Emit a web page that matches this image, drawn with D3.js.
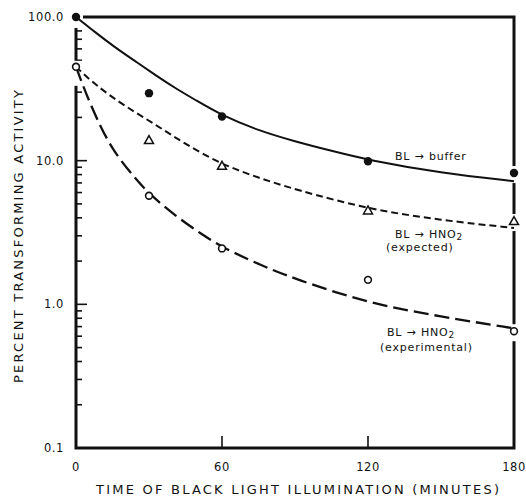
<!DOCTYPE html>
<html>
<head>
<meta charset="utf-8">
<script src="https://cdn.jsdelivr.net/npm/d3@7"></script>
<style>
  body { margin: 0; background: #fff; }
  text { font-family: "DejaVu Sans", "Liberation Sans", sans-serif; fill: #111; }
</style>
</head>
<body>
<div id="chart"></div>
<script>
// measured points (minutes, percent)
var bufferT = [0, 30, 60, 120, 180];
var bufferV = [100, 29.5, 20.3, 9.9, 8.2];
var expectedT = [30, 60, 120, 180];
var expectedV = [13.9, 9.2, 4.5, 3.8];
var experimentalT = [0, 30, 60, 120, 180];
var experimentalV = [45, 5.7, 2.45, 1.48, 0.65];

// fitted curves
var bufferCurveT = [0, 8, 16, 25, 33, 41, 49, 60, 75, 90, 105, 120, 150, 180];
var bufferCurveV = [100, 78, 61.5, 48.4, 39, 31.8, 26.5, 20.6, 16.2, 13.6, 11.7, 10.1, 8.2, 7.2];
var expectedCurveT = [0, 8, 20, 33, 45, 60, 75, 90, 120, 150, 180];
var expectedCurveV = [45, 33.6, 24, 17.7, 13, 9.4, 7.6, 6.3, 4.6, 3.85, 3.4];
var experimentalCurveT = [0, 4, 10, 16, 25, 30, 41, 52, 60, 75, 90, 120, 150, 180];
var experimentalCurveV = [45, 29.5, 17.2, 11.2, 7.3, 5.9, 4.1, 3.05, 2.5, 1.9, 1.5, 1.02, 0.82, 0.68];

var xTicks = [0, 60, 120, 180];
var yTicks = [0.1, 1, 10, 100];
var yTickLabels = ["0.1", "1.0", "10.0", "100.0"];

var width = 526, height = 496;
var svg = d3.select("#chart").append("svg")
  .attr("width", width).attr("height", height);

var x = d3.scaleLinear().domain([0, 180]).range([76, 514]);
var y = d3.scaleLog().domain([0.1, 100]).range([448, 17]);

function zip(t, v) { return t.map(function (d, i) { return [d, v[i]]; }); }

// frame: left axis, bottom axis, top line, right line
var frame = svg.append("g").attr("stroke", "#111").attr("stroke-width", 3).attr("fill", "none");
frame.append("path")
  .attr("d", "M" + x(0) + "," + y(100) + "V" + y(0.1) + "H" + x(180) + "V" + y(100) + "Z")
  .attr("stroke-linejoin", "miter");

// left ticks (minor 2..9, major at decades)
var minor = [];
[0.1, 1, 10].forEach(function (d) {
  for (var k = 2; k <= 9; k++) minor.push(d * k);
});
svg.append("g").selectAll("line.minor").data(minor).enter().append("line")
  .attr("x1", x(0)).attr("x2", x(0) + 6)
  .attr("y1", function (d) { return y(d); }).attr("y2", function (d) { return y(d); })
  .attr("stroke", "#111").attr("stroke-width", 1.6);
svg.append("g").selectAll("line.major").data([1, 10]).enter().append("line")
  .attr("x1", x(0)).attr("x2", x(0) + 11)
  .attr("y1", function (d) { return y(d); }).attr("y2", function (d) { return y(d); })
  .attr("stroke", "#111").attr("stroke-width", 1.6);

// bottom ticks
svg.append("g").selectAll("line").data([60, 120]).enter().append("line")
  .attr("x1", function (d) { return x(d); }).attr("x2", function (d) { return x(d); })
  .attr("y1", y(0.1)).attr("y2", y(0.1) - 12)
  .attr("stroke", "#111").attr("stroke-width", 1.6);

// tick labels
svg.append("g").selectAll("text").data(yTicks).enter().append("text")
  .attr("x", 64).attr("y", function (d) { return y(d) + 4; })
  .attr("text-anchor", "end").style("font-size", "11.5px").style("letter-spacing", "0.6px")
  .text(function (d, i) { return yTickLabels[i]; });
svg.append("g").selectAll("text").data(xTicks).enter().append("text")
  .attr("x", function (d) { return x(d); }).attr("y", 471)
  .attr("text-anchor", "middle").style("font-size", "11.5px").style("letter-spacing", "0.6px")
  .text(function (d) { return d; });

// axis titles
svg.append("text").attr("x", 96).attr("y", 494)
  .attr("textLength", 403).attr("lengthAdjust", "spacing")
  .style("font-size", "13px")
  .text("TIME OF BLACK LIGHT ILLUMINATION (MINUTES)");
svg.append("text")
  .attr("transform", "translate(23,383) rotate(-90)")
  .attr("textLength", 293).attr("lengthAdjust", "spacing")
  .style("font-size", "13px")
  .text("PERCENT TRANSFORMING ACTIVITY");

// knock the frame out where markers sit on it
var knock = svg.append("g").attr("fill", "#fff");
knock.append("rect").attr("x", x(0) - 6).attr("y", y(100) - 6).attr("width", 13).attr("height", 17);
knock.append("rect").attr("x", x(0) - 6).attr("y", y(45) - 6).attr("width", 12).attr("height", 25);
[bufferV[4], expectedV[3], experimentalV[4]].forEach(function (v) {
  knock.append("rect").attr("x", x(180) - 5).attr("y", y(v) - 7).attr("width", 10).attr("height", 17);
});

// curves
var line = d3.line()
  .x(function (d) { return x(d[0]); })
  .y(function (d) { return y(d[1]); })
  .curve(d3.curveBasis);

svg.append("path").datum(zip(bufferCurveT, bufferCurveV))
  .attr("d", line).attr("fill", "none").attr("stroke", "#111").attr("stroke-width", 2);
svg.append("path").datum(zip(expectedCurveT, expectedCurveV))
  .attr("d", line).attr("fill", "none").attr("stroke", "#111").attr("stroke-width", 2)
  .attr("stroke-dasharray", "7,4");
svg.append("path").datum(zip(experimentalCurveT, experimentalCurveV))
  .attr("d", line).attr("fill", "none").attr("stroke", "#111").attr("stroke-width", 2.3)
  .attr("stroke-dasharray", "15,6");

// markers
svg.append("g").selectAll("circle").data(zip(bufferT, bufferV)).enter().append("circle")
  .attr("cx", function (d) { return x(d[0]); }).attr("cy", function (d) { return y(d[1]); })
  .attr("r", 4.2).attr("fill", "#111");
svg.append("g").selectAll("circle").data(zip(experimentalT, experimentalV)).enter().append("circle")
  .attr("cx", function (d) { return x(d[0]); }).attr("cy", function (d) { return y(d[1]); })
  .attr("r", 3.4).attr("fill", "#fff").attr("stroke", "#111").attr("stroke-width", 1.6);
svg.append("g").selectAll("path").data(zip(expectedT, expectedV)).enter().append("path")
  .attr("transform", function (d) { return "translate(" + x(d[0]) + "," + y(d[1]) + ")"; })
  .attr("d", "M0,-4.5L4.5,3.5L-4.5,3.5Z")
  .attr("fill", "#fff").attr("stroke", "#111").attr("stroke-width", 1.5);

// curve labels
function label(px, py, gap, lines) {
  var g = svg.append("g").style("font-size", "11px").style("letter-spacing", "0.8px");
  lines.forEach(function (l, i) {
    var t = g.append("text").attr("x", px + l.dx).attr("y", py + i * gap);
    t.append("tspan").text(l.a);
    if (l.sub) {
      t.append("tspan").attr("dy", 2).style("font-size", "9px").text(l.sub);
    }
  });
}
label(395, 160, 13, [{ dx: 0, a: "BL \u2192 buffer" }]);
label(395, 238, 13, [{ dx: 0, a: "BL \u2192 HNO", sub: "2" }, { dx: -9, a: "(expected)" }]);
label(387, 336, 15, [{ dx: 0, a: "BL \u2192 HNO", sub: "2" }, { dx: -7, a: "(experimental)" }]);
</script>
</body>
</html>
